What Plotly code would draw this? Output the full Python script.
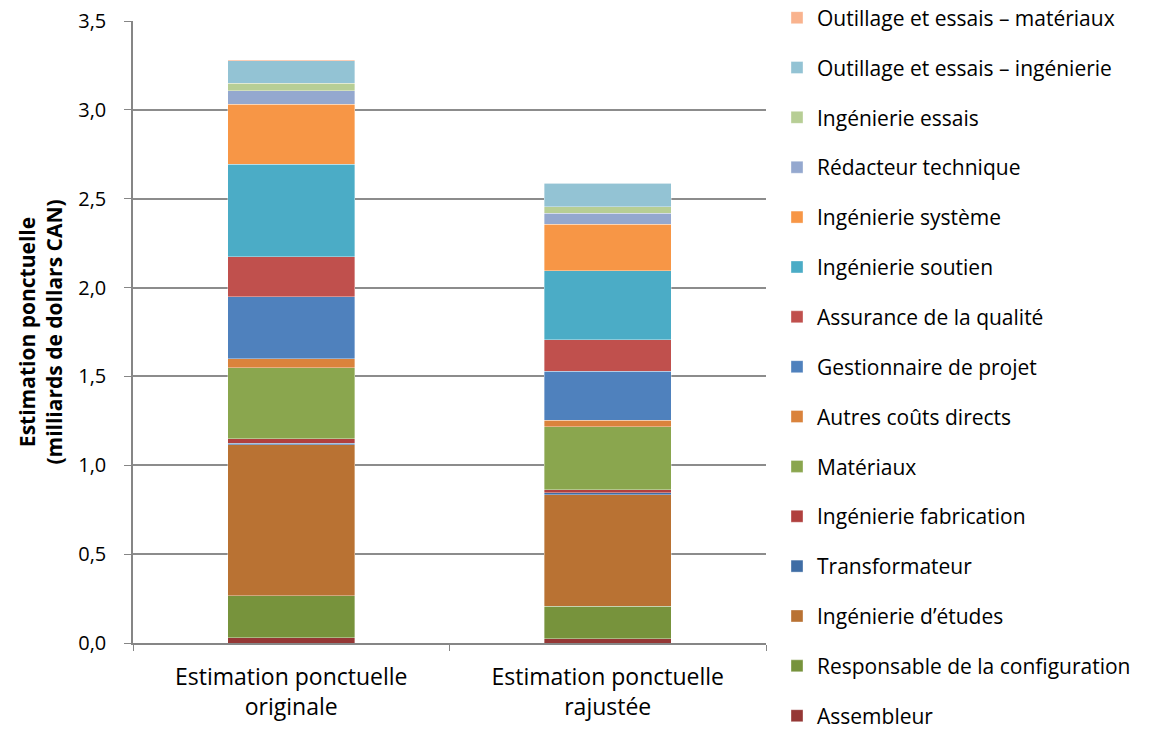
import plotly.graph_objects as go

categories = ["Estimation ponctuelle<br>originale", "Estimation ponctuelle<br>rajustée"]

series_names = [
    "Assembleur",
    "Responsable de la configuration",
    "Ingénierie d’études",
    "Transformateur",
    "Ingénierie fabrication",
    "Matériaux",
    "Autres coûts directs",
    "Gestionnaire de projet",
    "Assurance de la qualité",
    "Ingénierie soutien",
    "Ingénierie système",
    "Rédacteur technique",
    "Ingénierie essais",
    "Outillage et essais – ingénierie",
    "Outillage et essais – matériaux",
]

assembleur = [0.030, 0.024]
configuration = [0.235, 0.182]
etudes = [0.850, 0.629]
transformateur = [0.010, 0.010]
fabrication = [0.024, 0.017]
materiaux = [0.400, 0.356]
autres = [0.050, 0.036]
gestionnaire = [0.350, 0.274]
assurance = [0.225, 0.178]
soutien = [0.520, 0.390]
systeme = [0.338, 0.261]
redacteur = [0.076, 0.062]
essais = [0.042, 0.035]
outillage_ing = [0.125, 0.134]
outillage_mat = [0.006, 0.002]

series_values = [assembleur, configuration, etudes, transformateur, fabrication,
                 materiaux, autres, gestionnaire, assurance, soutien, systeme,
                 redacteur, essais, outillage_ing, outillage_mat]

colors = ["#953735", "#77933C", "#B97233", "#3F6DA5", "#B0403E",
          "#8AA64E", "#DA833C", "#4F81BD", "#C0504D", "#4BACC6",
          "#F79646", "#94A8CF", "#B7CE95", "#93C3D4", "#F9B38E"]

y_ticks = [0.0, 0.5, 1.0, 1.5, 2.0, 2.5, 3.0, 3.5]

FONT = "Open Sans"
LEG_FONT = 21

W, H = 1169, 729
plot_left, plot_right = 133, 766
plot_top, plot_bot = 21, 643
pw, ph = plot_right - plot_left, plot_bot - plot_top

n = len(series_names)
legend_top_center, legend_step = 18, 49.86

fig = go.Figure()
legend_layouts = {}
for idx in range(n):
    k = n - 1 - idx  # row from the top of the legend
    lname = "legend" if k == 0 else f"legend{k + 1}"
    fig.add_trace(go.Bar(
        x=categories, y=series_values[idx], name=series_names[idx],
        marker=dict(color=colors[idx], line=dict(color="rgba(255,255,255,0.45)", width=0.8)),
        legend=lname,
    ))
    center = legend_top_center + legend_step * k
    legend_layouts[lname] = dict(
        xref="paper", yref="paper",
        x=(777 - plot_left) / pw, y=(plot_bot - center) / ph,
        xanchor="left", yanchor="middle",
        font=dict(family=FONT, size=LEG_FONT, color="#000000"),
        bgcolor="rgba(0,0,0,0)", borderwidth=0,
    )

fig.update_layout(
    barmode="stack",
    bargap=0.6,
    width=W, height=H,
    margin=dict(l=plot_left, r=W - plot_right, t=plot_top, b=H - plot_bot, autoexpand=False),
    plot_bgcolor="white", paper_bgcolor="white",
    separators=", ",
    font=dict(family=FONT, size=20, color="#000000"),
    showlegend=True,
    **legend_layouts,
)

fig.update_xaxes(
    showline=True, linecolor="#868686", linewidth=1.5,
    ticks="outside", tickson="boundaries", ticklen=6, tickcolor="#868686",
    ticklabelstandoff=13,
    tickfont=dict(family=FONT, size=23, color="#000000"),
    showgrid=False,
)
fig.update_yaxes(
    range=[0, 3.5], tickvals=y_ticks, tickformat=".1f",
    showline=True, linecolor="#868686", linewidth=1.5,
    ticks="outside", ticklen=7, tickcolor="#868686",
    ticklabelstandoff=14,
    showgrid=True, gridcolor="#8C8C8C", gridwidth=1.5,
    zeroline=False,
    tickfont=dict(family=FONT, size=20, color="#000000"),
    title=dict(text="<b>Estimation ponctuelle<br>(milliards de dollars CAN)</b>",
               font=dict(family=FONT, size=21, color="#000000"), standoff=10),
)

fig.write_html("out.html",
               config={"displayModeBar": False},
               post_script="document.body.style.margin='0';document.body.style.padding='0';")
